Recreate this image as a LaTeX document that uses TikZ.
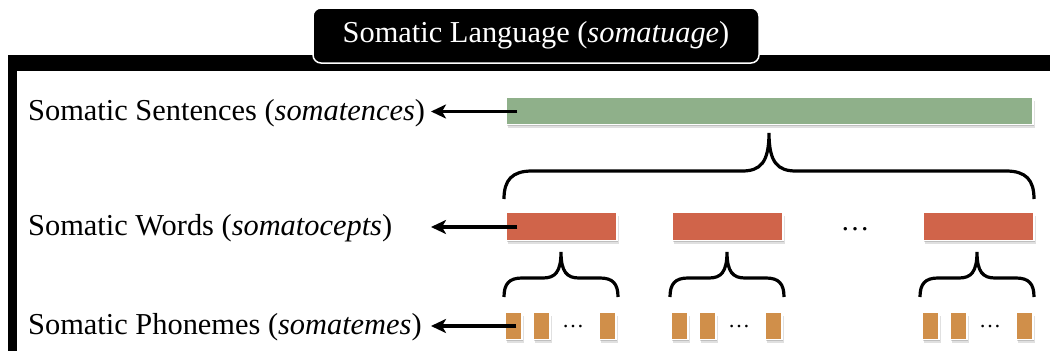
\documentclass[tikz,border=0pt]{standalone}
\usepackage{fontspec}
\setmainfont{Liberation Serif}
\usetikzlibrary{arrows.meta,shadows}
\definecolor{sgreen}{RGB}{143,176,138}
\definecolor{sred}{RGB}{208,100,74}
\definecolor{sorange}{RGB}{208,143,74}
\begin{document}
\begin{tikzpicture}[x=1pt,y=-1pt,
  lbl/.style={anchor=base west,inner sep=0pt,font=\fontsize{30.4}{36}\selectfont},
  titlebox/.style={fill=black,draw=white,line width=1.5pt,rounded corners=8pt,text=white,
    minimum width=446pt,minimum height=55pt,inner sep=0pt,font=\fontsize{30.4}{36}\selectfont},
  bar/.style={draw=white,line width=1.5pt,inner sep=0pt,
    drop shadow={shadow xshift=1.5pt,shadow yshift=-3pt,opacity=0.12,fill=black},
    drop shadow={shadow xshift=1pt,shadow yshift=-1.8pt,opacity=0.15,fill=black}},
  sentbar/.style={bar,fill=sgreen,minimum width=527pt,minimum height=27pt},
  wordbar/.style={bar,fill=sred,minimum width=111pt,minimum height=28pt},
  phonbar/.style={bar,fill=sorange,minimum width=17pt,minimum height=27pt},
  arr/.style={line width=3.2pt,-{Stealth[length=15pt,width=14pt,inset=4pt]}},
  bracepath/.style={line width=3.2pt},
  dotsw/.style={inner sep=0pt,font=\fontsize{29}{30}\selectfont},
  dotsp/.style={inner sep=0pt,font=\fontsize{22}{24}\selectfont}
]
\useasboundingbox (0,0) rectangle (1050,351);
% frame
\fill[black] (8,55) rectangle (1050,71);
\fill[black] (8,55) rectangle (17,351);
% title
\node[titlebox] (title) at (536,35.5) {\raisebox{-1.5pt}{Somatic Language (\textit{somatuage})}};
% labels
\node[lbl] (ls) at (28,120) {Somatic Sentences (\textit{somatences})};
\node[lbl] (lw) at (28,235) {Somatic Words (\textit{somatocepts})};
\node[lbl] (lp) at (28,334) {Somatic Phonemes (\textit{somatemes})};
% bars
\node[sentbar] (s) at (769.5,111) {};
\node[wordbar] (w1) at (561.5,226.5) {};
\node[wordbar] (w2) at (727.5,226.5) {};
\node[wordbar] (w3) at (978.5,226.5) {};
\node[dotsw] (dw) at (855,229) {…};
\foreach \L/\g in {505/1,671/2,922/3}{
  \node[phonbar] (p\g a) at ({\L+8.5},326) {};
  \node[phonbar] (p\g b) at ({\L+36.5},326) {};
  \node[phonbar] (p\g c) at ({\L+102.5},326) {};
  \node[dotsp] (dp\g) at ({\L+68},327) {…};
}
% arrow tips
\coordinate (ts) at (431,111.5);
\coordinate (tw) at (431,227);
\coordinate (tp) at (431,326);
\draw[arr] ([xshift=12pt,yshift=-0.5pt]s.west) -- (ts);
\draw[arr] ([xshift=12pt,yshift=-0.5pt]w1.west) -- (tw);
\draw[arr] ([xshift=12pt]p1a.west) -- (tp);
% big brace
\draw[bracepath] (504,199) .. controls (504,180) and (512,171) .. (532,171) -- (742,171)
  .. controls (760,171) and (769,163) .. (769,133)
  .. controls (769,163) and (778,171) .. (796,171) -- (1006,171)
  .. controls (1026,171) and (1034,180) .. (1034,199);
% small braces
\foreach \L in {504,670,920}{
  \draw[bracepath] (\L,297) .. controls (\L,284) and ({\L+5},278) .. ({\L+18},278) -- ({\L+39},278)
    .. controls ({\L+51},278) and ({\L+57},272) .. ({\L+57},252)
    .. controls ({\L+57},272) and ({\L+63},278) .. ({\L+75},278) -- ({\L+96},278)
    .. controls ({\L+109},278) and ({\L+114},284) .. ({\L+114},297);
}
\end{tikzpicture}
\end{document}
